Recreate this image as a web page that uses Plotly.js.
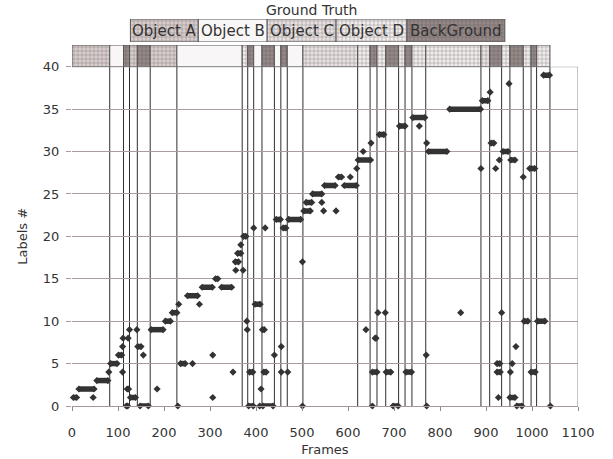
<!DOCTYPE html>
<html><head><meta charset="utf-8">
<script src="https://cdn.plot.ly/plotly-3.0.1.min.js"></script>
<style>html,body{margin:0;padding:0;background:#fff}#chart{width:613px;height:459px}</style>
</head><body><div id="chart"></div>
<script>
// ---- Ground truth segments (frame boundaries and class of each segment) ----
const gtBounds = [0,82,112,125,142,170,228,370,382,395,413,440,454,468,502,621,648,663,682,710,724,739,769,889,908,934,952,981,998,1010,1039];
const gtClass  = ['A','B','BG','A','BG','A','B','D','BG','B','BG','B','BG','B','C','D','BG','D','BG','D','BG','D','D','C','BG','D','BG','D','BG','D'];

// ---- Legend (ground-truth classes) ----
const classKeys   = ['A','B','C','D','BG'];
const classNames  = ['Object A','Object B','Object C','Object D','BackGround'];

// ---- Estimated labels: runs of consecutive frames with the same label ----
const runStart = [3,15,54,84,101,118,120,127,143,148,172,203,218,236,251,283,312,325,355,360,373,386,384,398,414,417,415,444,459,471,504,509,523,549,579,592,622,653,659,668,683,698,712,726,741,775,821,892,911,924,924,937,952,954,967,983,995,998,1012,1025];
const runEnd   = [10,48,78,98,108,121,123,138,150,166,198,214,228,246,273,305,317,347,362,367,378,393,394,409,418,422,437,453,465,497,518,521,543,572,586,618,649,663,661,678,693,709,724,738,767,815,888,904,917,930,931,948,963,963,978,991,1006,1007,1028,1038];
const runLabel = [1,2,3,5,6,0,2,1,7,0,9,10,11,5,13,14,15,14,17,18,20,4,0,12,9,4,0,22,21,22,23,24,25,26,27,26,29,4,8,32,4,0,33,4,34,30,35,36,31,5,4,30,1,29,0,10,28,4,10,39];

// ---- Estimated labels: isolated frames ----
const singleFrame = [46,80,110,110,111,122,125,141,155,185,230,232,262,277,306,306,350,356,372,367,380,381,395,408,411,420,440,455,455,469,501,501,543,547,574,605,619,633,639,650,653,665,681,755,770,771,771,845,889,909,921,927,929,934,950,953,957,965,981,1040];
const singleLabel = [1,4,4,7,8,8,9,9,6,2,0,12,5,12,6,1,4,16,16,19,10,9,21,0,2,21,6,7,4,4,17,0,24,23,23,27,28,30,9,31,0,11,11,33,6,0,31,11,28,37,28,1,29,11,38,4,5,7,27,0];

// ---- styles ----
const fillColor = {A:'#d9cdcd', B:'#f8f6f6', C:'#e9e1e1', D:'#f1ecec', BG:'#978888'};
const gridFg    = {A:'#bcadad', B:'#f8f6f6', C:'#d3c7c7', D:'#e0d6d6', BG:'#6f6060'};
const patShape  = {A:'+', B:'', C:'+', D:'+', BG:'+'};

const W = 613, H = 459, mL = 71.5, mR = 34.7, mT = 19, mB = 53.2;
const pw = W - mL - mR, ph = H - mT - mB;
const px2x = p => (p - mL) / pw;
const py2y = p => (H - mB - p) / ph;
const mainTop  = py2y(66.7);   // y = 40 line
const stripTop = py2y(45);
const legBot   = py2y(42);

const font = 'DejaVu Sans, Arial, sans-serif';
const ink = '#333333';

// strip bars
const segStart = gtBounds.slice(0, -1);
const segWidth = segStart.map((s, i) => gtBounds[i + 1] - s);

function patternFor(keys) {
  return {shape: keys.map(c => patShape[c]), fillmode: 'overlay',
          fgcolor: keys.map(c => gridFg[c]), size: 4, solidity: 0.25};
}

const stripTrace = {
  type: 'bar', orientation: 'h', xaxis: 'x', yaxis: 'y2',
  y: segStart.map(() => 0), base: segStart, x: segWidth, width: 1,
  marker: {color: gtClass.map(c => fillColor[c]), line: {color: '#555555', width: 1},
           pattern: patternFor(gtClass)},
  hoverinfo: 'skip', showlegend: false
};

// legend boxes (pixel-scaled helper axis)
const legendEdges = [130, 198, 267, 336, 407, 505];
const legBase = legendEdges.slice(0, -1);
const legW = legBase.map((s, i) => legendEdges[i + 1] - s);
const legendTrace = {
  type: 'bar', orientation: 'h', xaxis: 'x2', yaxis: 'y3',
  y: legBase.map(() => 0), base: legBase, x: legW, width: 1,
  marker: {color: classKeys.map(c => fillColor[c]), line: {color: '#555555', width: 1},
           pattern: patternFor(classKeys)},
  hoverinfo: 'skip', showlegend: false
};

// runs: a thick line between first and last frame, with diamond ends
const rx = [], ry = [];
runStart.forEach((s, i) => { rx.push(s, runEnd[i], null); ry.push(runLabel[i], runLabel[i], null); });
const runTrace = {
  type: 'scatter', mode: 'lines+markers', x: rx, y: ry, connectgaps: false,
  line: {color: ink, width: 5.5},
  marker: {symbol: 'diamond', size: 5.5, color: ink},
  cliponaxis: false, hoverinfo: 'skip', showlegend: false
};
const singleTrace = {
  type: 'scatter', mode: 'markers', x: singleFrame, y: singleLabel,
  marker: {symbol: 'diamond', size: 5.5, color: ink},
  cliponaxis: false, hoverinfo: 'skip', showlegend: false
};

// vertical boundary lines
const shapes = gtBounds.slice(1).map(b => ({
  type: 'line', xref: 'x', yref: 'paper', x0: b, x1: b, y0: 0, y1: mainTop,
  line: {color: '#2e2e2e', width: 1}, layer: 'between'
}));
shapes.push({type: 'line', xref: 'x', yref: 'y', x0: 1100, x1: 1100, y0: 0, y1: 40,
             line: {color: '#8c8c8c', width: 1}, layer: 'between'});
shapes.push({type: 'line', xref: 'x', yref: 'y', x0: 0, x1: 1100, y0: 40, y1: 40,
             line: {color: '#8c8c8c', width: 1}, layer: 'between'});

// legend texts + title
const annotations = classNames.map((name, i) => ({
  xref: 'paper', yref: 'paper',
  x: px2x((legendEdges[i] + legendEdges[i + 1]) / 2), y: py2y(31),
  xanchor: 'center', yanchor: 'middle', showarrow: false, text: name,
  font: {family: font, size: 15, color: ink}
}));
annotations.push({
  xref: 'paper', yref: 'paper', x: px2x(311.5), y: py2y(10), xanchor: 'center', yanchor: 'middle',
  showarrow: false, text: 'Ground Truth', font: {family: font, size: 14, color: ink}
});

const layout = {
  width: W, height: H,
  margin: {l: mL, r: mR, t: mT, b: mB, pad: 0},
  paper_bgcolor: '#ffffff', plot_bgcolor: '#ffffff',
  showlegend: false, bargap: 0,
  font: {family: font, size: 13, color: ink},
  xaxis: {
    range: [0, 1100], tick0: 0, dtick: 100, ticks: 'outside', ticklen: 4, tickcolor: '#8c8c8c',
    showgrid: false, zeroline: false, showline: true, linecolor: '#a89696', linewidth: 1,
    tickfont: {family: font, size: 13, color: ink}, ticklabelstandoff: 10,
    title: {text: 'Frames', font: {family: font, size: 13, color: ink}, standoff: 6},
    anchor: 'y', fixedrange: true
  },
  yaxis: {
    domain: [0, mainTop], range: [0, 40], tick0: 0, dtick: 5,
    showgrid: true, gridcolor: '#ad9c9c', gridwidth: 1, zeroline: false, showline: false,
    ticks: 'outside', ticklen: 5, tickcolor: '#ad9c9c', ticklabelstandoff: 4,
    tickfont: {family: font, size: 13, color: ink},
    title: {text: 'Labels #', font: {family: font, size: 13, color: ink}, standoff: 12},
    fixedrange: true
  },
  yaxis2: {domain: [mainTop, stripTop], range: [-0.5, 0.5], visible: false, fixedrange: true, anchor: 'x'},
  xaxis2: {domain: [0, 1], range: [mL, W - mR], visible: false, fixedrange: true, anchor: 'y3'},
  yaxis3: {domain: [legBot, 1], range: [-0.5, 0.5], visible: false, fixedrange: true, anchor: 'x2'},
  shapes: shapes,
  annotations: annotations
};

Plotly.newPlot('chart', [stripTrace, legendTrace, singleTrace, runTrace], layout, {staticPlot: true, displayModeBar: false});
</script>
</body></html>
